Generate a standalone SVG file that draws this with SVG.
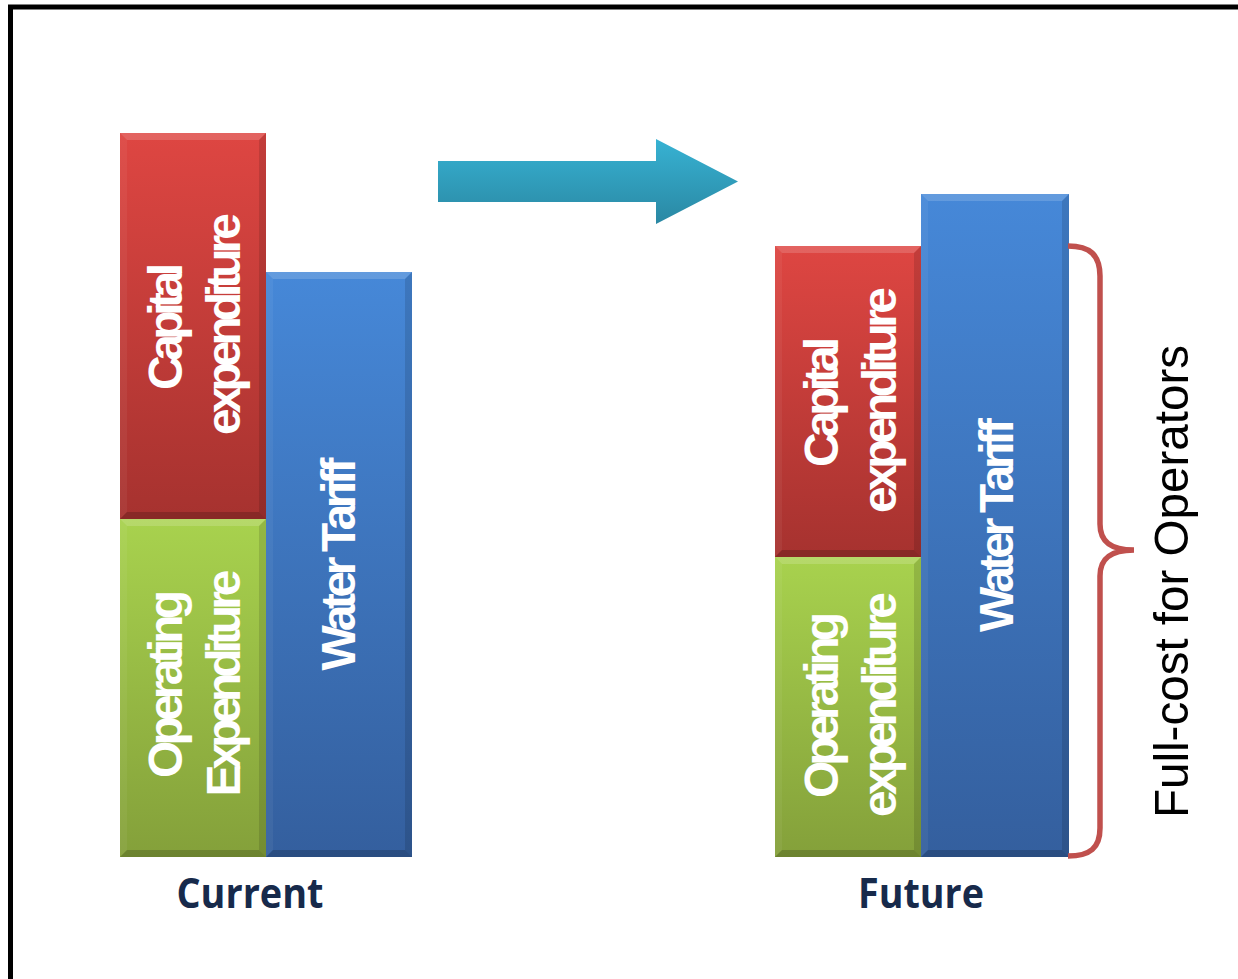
<svg xmlns="http://www.w3.org/2000/svg" width="1238" height="979" viewBox="0 0 1238 979">
<defs>
<linearGradient id="gRed" x1="0" y1="0" x2="0" y2="1"><stop offset="0" stop-color="#DE4642"/><stop offset="1" stop-color="#A6322F"/></linearGradient>
<linearGradient id="gGreen" x1="0" y1="0" x2="0" y2="1"><stop offset="0" stop-color="#A8D24E"/><stop offset="1" stop-color="#84A03A"/></linearGradient>
<linearGradient id="gBlue" x1="0" y1="0" x2="0" y2="1"><stop offset="0" stop-color="#4688D8"/><stop offset="1" stop-color="#345F9E"/></linearGradient>
<linearGradient id="gArrow" x1="0" y1="0" x2="0" y2="1"><stop offset="0" stop-color="#37B2D3"/><stop offset="1" stop-color="#2A88A3"/></linearGradient>
</defs>
<style>
.bt{font-family:"Liberation Sans",Arial,sans-serif;font-weight:bold;font-size:48px;fill:#FFFFFF;text-anchor:middle}
.lbl{font-family:"Open Sans","Liberation Sans",sans-serif;font-weight:bold;font-size:41px;fill:#172A4B;text-anchor:middle}
.fc{font-family:"Liberation Sans",Arial,sans-serif;font-size:49px;fill:#000000;text-anchor:middle}
.hl{fill:#FFFFFF;opacity:0.16}
.sl{fill:#FFFFFF;opacity:0.05}
.sd{fill:#000000;opacity:0.12}
.bd{fill:#000000;opacity:0.18}
</style>
<rect width="1238" height="979" fill="#FFFFFF"/>
<path d="M10.5,990 L10.5,7 L1250,7" fill="none" stroke="#000000" stroke-width="5"/>

<g id="cur-capex">
<rect x="120" y="133" width="146" height="386" fill="url(#gRed)"/>
<polygon class="hl" points="120,133 266,133 259,140 127,140"/>
<polygon class="sl" points="120,133 127,140 127,512 120,519"/>
<polygon class="sd" points="266,133 266,519 259,512 259,140"/>
<polygon class="bd" points="120,519 127,512 259,512 266,519"/>
<text class="bt" transform="translate(182,326.5) rotate(-90)" textLength="127" lengthAdjust="spacing">Capital</text>
<text class="bt" transform="translate(240,324) rotate(-90)" textLength="222" lengthAdjust="spacing">expenditure</text>
</g>
<g id="cur-opex">
<rect x="120" y="519" width="146" height="338" fill="url(#gGreen)"/>
<polygon class="hl" points="120,519 266,519 259,526 127,526"/>
<polygon class="sl" points="120,519 127,526 127,850 120,857"/>
<polygon class="sd" points="266,519 266,857 259,850 259,526"/>
<polygon class="bd" points="120,857 127,850 259,850 266,857"/>
<text class="bt" transform="translate(182,684) rotate(-90)" textLength="188" lengthAdjust="spacing">Operating</text>
<text class="bt" transform="translate(240,683) rotate(-90)" textLength="227" lengthAdjust="spacing">Expenditure</text>
</g>
<g id="cur-tariff">
<rect x="266" y="272" width="146" height="585" fill="url(#gBlue)"/>
<polygon class="hl" points="266,272 412,272 405,279 273,279"/>
<polygon class="sl" points="266,272 273,279 273,850 266,857"/>
<polygon class="sd" points="412,272 412,857 405,850 405,279"/>
<polygon class="bd" points="266,857 273,850 405,850 412,857"/>
<text class="bt" transform="translate(355,564) rotate(-90)" textLength="213" lengthAdjust="spacing">Water Tariff</text>
</g>
<g id="label-current"><text class="lbl" x="250" y="908" textLength="147" lengthAdjust="spacingAndGlyphs">Current</text></g>

<g id="fut-capex">
<rect x="775" y="246" width="146" height="311" fill="url(#gRed)"/>
<polygon class="hl" points="775,246 921,246 914,253 782,253"/>
<polygon class="sl" points="775,246 782,253 782,550 775,557"/>
<polygon class="sd" points="921,246 921,557 914,550 914,253"/>
<polygon class="bd" points="775,557 782,550 914,550 921,557"/>
<text class="bt" transform="translate(838,402) rotate(-90)" textLength="130" lengthAdjust="spacing">Capital</text>
<text class="bt" transform="translate(896,400) rotate(-90)" textLength="226" lengthAdjust="spacing">expenditure</text>
</g>
<g id="fut-opex">
<rect x="775" y="557" width="146" height="300" fill="url(#gGreen)"/>
<polygon class="hl" points="775,557 921,557 914,564 782,564"/>
<polygon class="sl" points="775,557 782,564 782,850 775,857"/>
<polygon class="sd" points="921,557 921,857 914,850 914,564"/>
<polygon class="bd" points="775,857 782,850 914,850 921,857"/>
<text class="bt" transform="translate(838,705) rotate(-90)" textLength="186" lengthAdjust="spacing">Operating</text>
<text class="bt" transform="translate(896,704.5) rotate(-90)" textLength="225" lengthAdjust="spacing">expenditure</text>
</g>
<g id="fut-tariff">
<rect x="921" y="194" width="148" height="663" fill="url(#gBlue)"/>
<polygon class="hl" points="921,194 1069,194 1062,201 928,201"/>
<polygon class="sl" points="921,194 928,201 928,850 921,857"/>
<polygon class="sd" points="1069,194 1069,857 1062,850 1062,201"/>
<polygon class="bd" points="921,857 928,850 1062,850 1069,857"/>
<text class="bt" transform="translate(1013,525) rotate(-90)" textLength="214" lengthAdjust="spacing">Water Tariff</text>
</g>
<g id="label-future"><text class="lbl" x="921" y="908" textLength="126" lengthAdjust="spacingAndGlyphs">Future</text></g>

<g id="connectors">
<polygon id="arrow" points="438,161 656,161 656,139 738,181.5 656,224 656,202 438,202" fill="url(#gArrow)"/>
<path id="brace" d="M1068,246 C1090,246 1100,255 1100,276 L1100,524 C1100,541 1110,550 1134,550 C1110,550 1100,559 1100,576 L1100,828 C1100,848 1090,856 1068,856" fill="none" stroke="#C0504D" stroke-width="5.5"/>
</g>
<g id="fullcost"><text class="fc" transform="translate(1188,581.5) rotate(-90)" textLength="473" lengthAdjust="spacingAndGlyphs">Full-cost for Operators</text></g>
</svg>
